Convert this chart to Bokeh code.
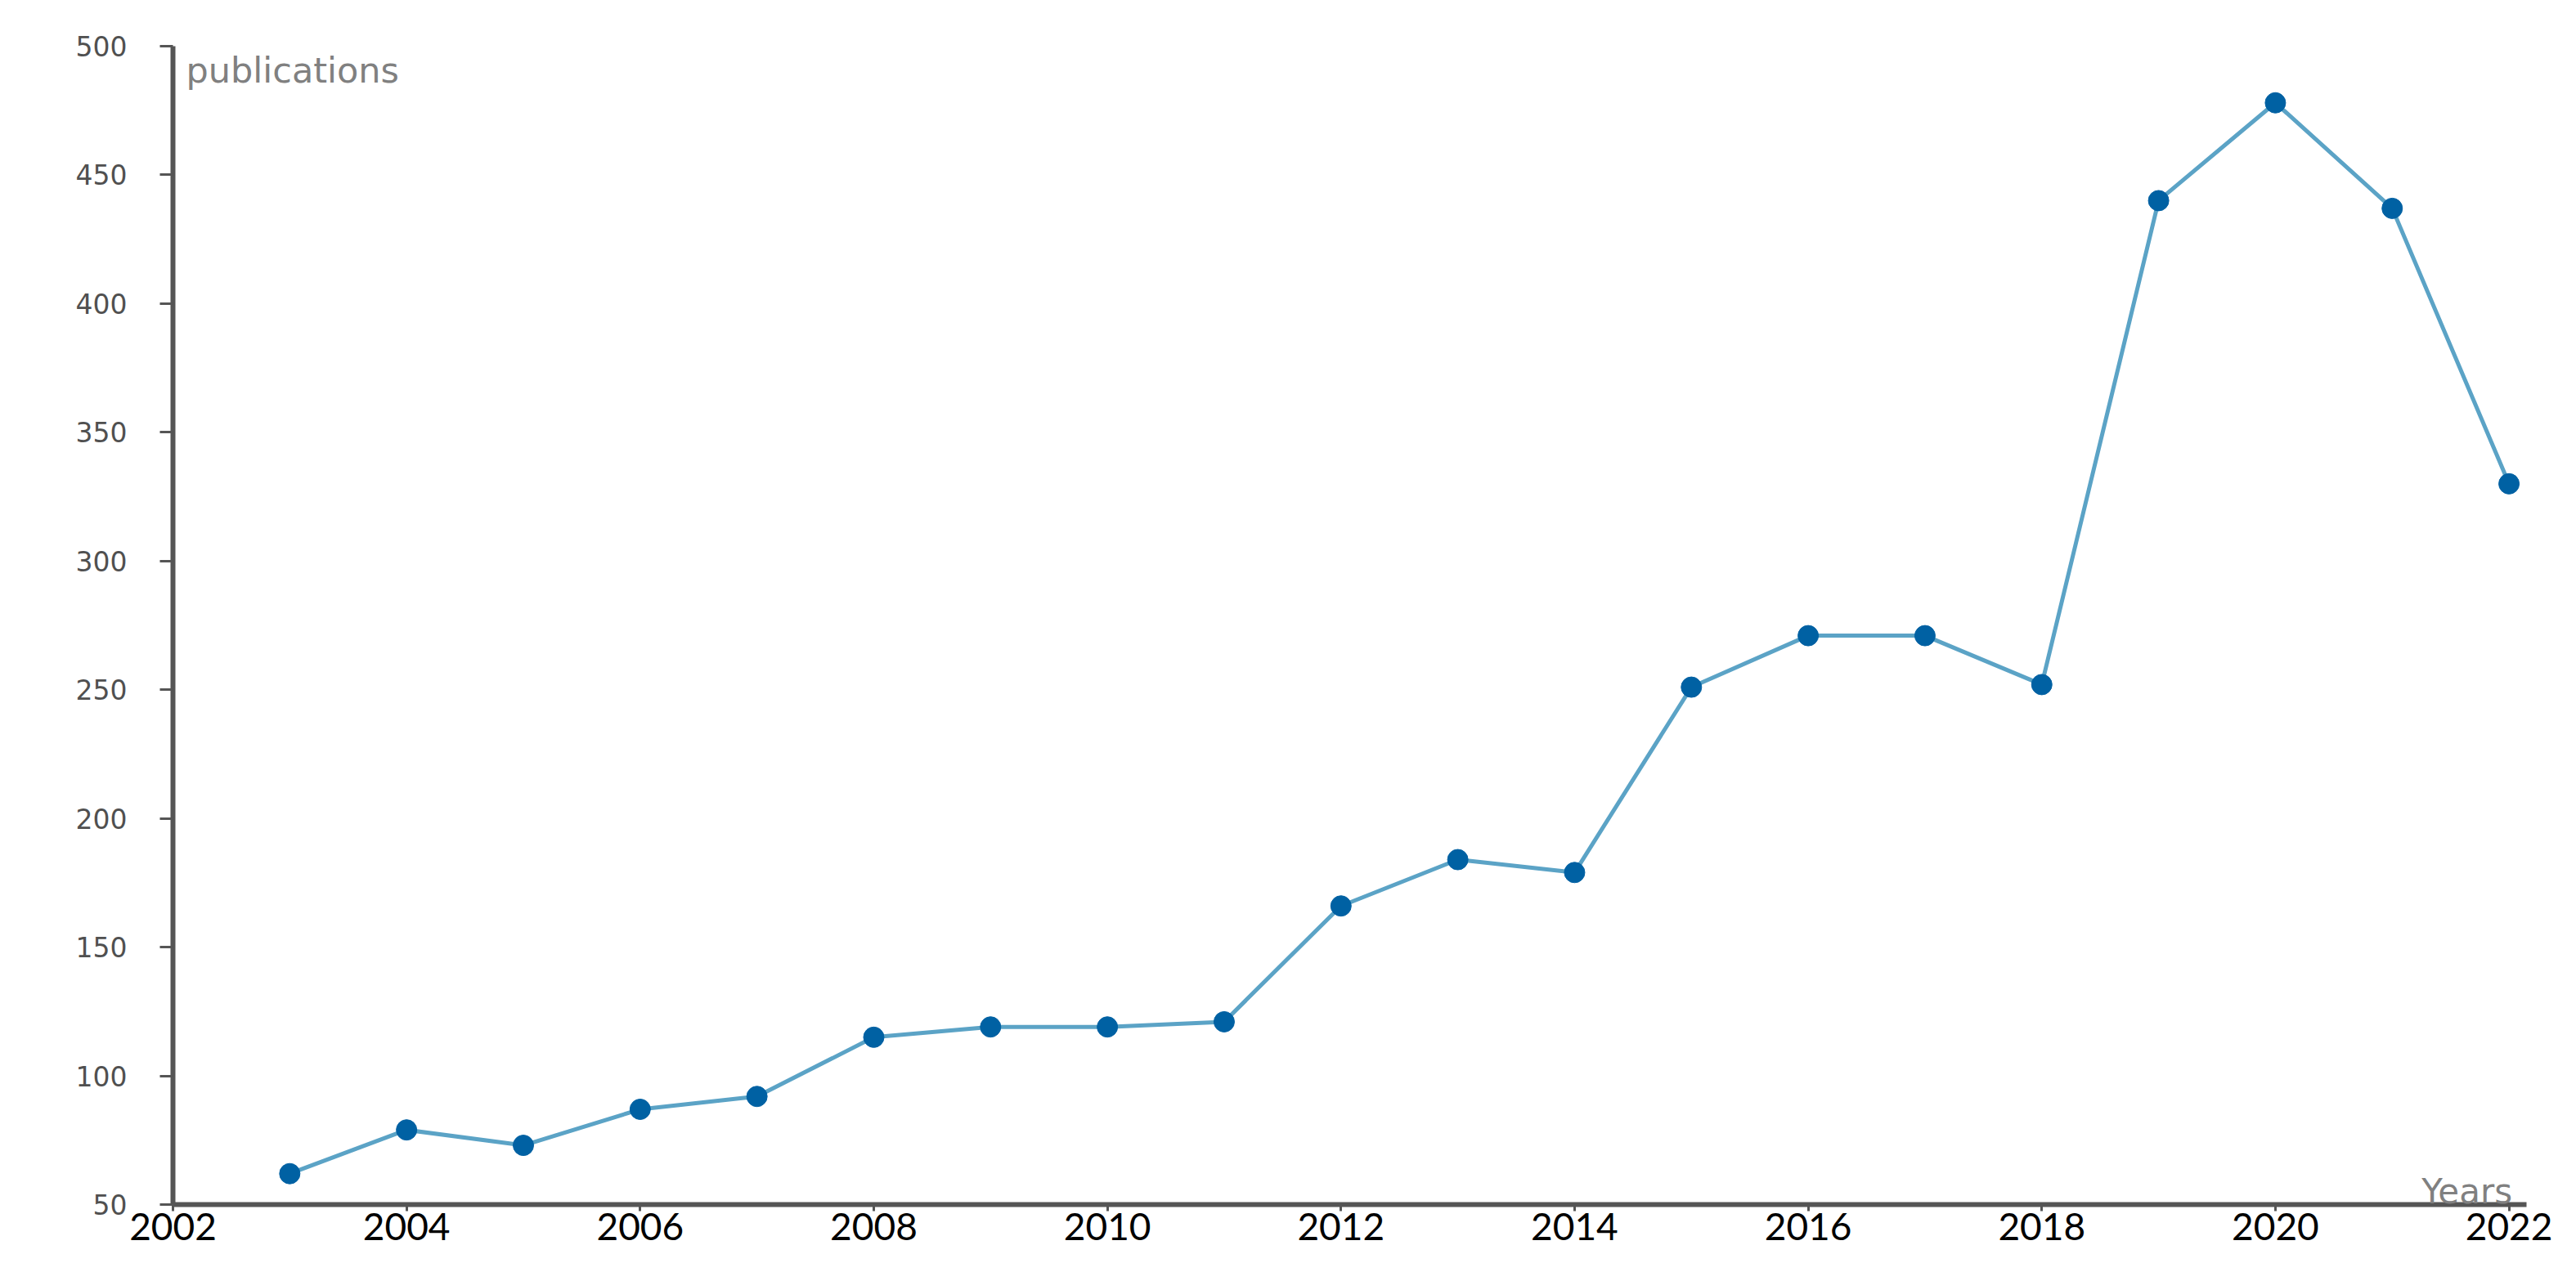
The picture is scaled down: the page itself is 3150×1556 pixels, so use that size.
from bokeh.plotting import figure
from bokeh.models import Range1d, FixedTicker, Label
from bokeh.embed import file_html
from bokeh.resources import INLINE

years = [2003, 2004, 2005, 2006, 2007, 2008, 2009, 2010, 2011, 2012,
         2013, 2014, 2015, 2016, 2017, 2018, 2019, 2020, 2021, 2022]
publications = [62, 79, 73, 87, 92, 115, 119, 119, 121, 166,
                184, 179, 251, 271, 271, 252, 440, 478, 437, 330]
x_ticks = [2002, 2004, 2006, 2008, 2010, 2012, 2014, 2016, 2018, 2020, 2022]
y_ticks = [50, 100, 150, 200, 250, 300, 350, 400, 450, 500]

W, H = 3134, 1540
p = figure(width=W, height=H, output_backend="svg", toolbar_location=None,
           x_range=Range1d(2002, 2022.15), y_range=Range1d(50, 500),
           min_border_left=211, min_border_right=45, min_border_top=56,
           min_border_bottom=67)
p.outline_line_color = None
p.xgrid.grid_line_color = None
p.ygrid.grid_line_color = None
p.background_fill_color = "white"
p.border_fill_color = "white"

p.line(years, publications, line_color="#5BA3C6", line_width=5)
p.scatter(years, publications, size=25, fill_color="#0061A3", line_color="#0061A3")

xa = p.xaxis[0]
xa.ticker = FixedTicker(ticks=x_ticks)
xa.axis_line_color = "#555555"
xa.axis_line_width = 6
xa.major_tick_line_color = "#555555"
xa.major_tick_line_width = 3
xa.major_tick_in = 0
xa.major_tick_out = 8
xa.minor_tick_line_color = None
xa.major_label_text_font = "Lato"
xa.major_label_text_font_size = "46px"
xa.major_label_text_color = "black"
xa.major_label_standoff = 2

ya = p.yaxis[0]
ya.ticker = FixedTicker(ticks=y_ticks)
ya.axis_line_color = "#555555"
ya.axis_line_width = 6
ya.major_tick_line_color = "#555555"
ya.major_tick_line_width = 3
ya.major_tick_in = 0
ya.major_tick_out = 16
ya.minor_tick_line_color = None
ya.major_label_text_font = "DejaVu Sans"
ya.major_label_text_font_size = "33px"
ya.major_label_text_color = "#505050"
ya.major_label_standoff = 40

p.add_layout(Label(x=2002, y=500, x_offset=16, y_offset=-4, text="publications",
                   text_font="DejaVu Sans", text_font_size="43px",
                   text_color="#808080", text_baseline="top", text_align="left"))
p.add_layout(Label(x=2022, y=50, x_offset=4, y_offset=16, text="Years",
                   text_font="DejaVu Sans", text_font_size="42px",
                   text_color="#808080", text_baseline="alphabetic", text_align="right"))

open("out.html", "w").write(file_html(p, INLINE))
